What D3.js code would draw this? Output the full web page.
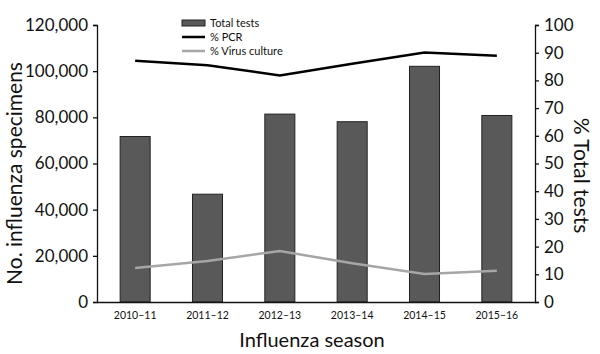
<!DOCTYPE html>
<html>
<head>
<meta charset="utf-8">
<script src="https://cdn.jsdelivr.net/npm/d3@7"></script>
<style>
  body { margin: 0; background: #fff; }
  text { font-family: Lato, "Open Sans", sans-serif; }
</style>
</head>
<body>
<div id="chart"></div>
<script>
const seasons = ["2010–11", "2011–12", "2012–13", "2013–14", "2014–15", "2015–16"];
const totalTests = [71700, 46700, 81400, 78100, 102100, 80800];
const pctPCR = [87.1, 85.5, 81.8, 86.0, 90.1, 88.9];
const pctCulture = [12.3, 14.8, 18.4, 14.0, 10.1, 11.3];
const leftTicks = [0, 20000, 40000, 60000, 80000, 100000, 120000];
const rightTicks = [0, 10, 20, 30, 40, 50, 60, 70, 80, 90, 100];

const width = 600, height = 354;
const margin = {top: 25, right: 65, bottom: 52, left: 97};

const svg = d3.select("#chart").append("svg")
  .attr("width", width)
  .attr("height", height);

const x = d3.scaleBand()
  .domain(seasons)
  .range([margin.left, width - margin.right])
  .paddingInner(0.585)
  .paddingOuter(0.32);

const yLeft = d3.scaleLinear().domain([0, 120000]).range([height - margin.bottom, margin.top]);
const yRight = d3.scaleLinear().domain([0, 100]).range([height - margin.bottom, margin.top]);

// bars
svg.append("g")
  .selectAll("rect")
  .data(seasons)
  .join("rect")
  .attr("x", d => x(d))
  .attr("width", x.bandwidth())
  .attr("y", (d, i) => yLeft(totalTests[i]))
  .attr("height", (d, i) => yLeft(0) - yLeft(totalTests[i]))
  .attr("fill", "#595959")
  .attr("stroke", "#222")
  .attr("stroke-width", 1);

const line = d3.line()
  .x((d, i) => x(seasons[i]) + x.bandwidth() / 2)
  .y(d => yRight(d));

svg.append("path")
  .attr("d", line(pctPCR))
  .attr("fill", "none")
  .attr("stroke", "#000")
  .attr("stroke-width", 2.5);

svg.append("path")
  .attr("d", line(pctCulture))
  .attr("fill", "none")
  .attr("stroke", "#a6a6a6")
  .attr("stroke-width", 2.5);

// axes
const leftAxis = svg.append("g")
  .attr("transform", `translate(${margin.left},0)`)
  .call(d3.axisLeft(yLeft).tickValues(leftTicks).tickSize(4).tickSizeOuter(4).tickFormat(d3.format(",")));
leftAxis.selectAll("text").attr("font-size", 17).attr("fill", "#111").attr("dx", -2);

const rightAxis = svg.append("g")
  .attr("transform", `translate(${width - margin.right},0)`)
  .call(d3.axisRight(yRight).tickValues(rightTicks).tickSize(4).tickSizeOuter(4));
rightAxis.selectAll("text").attr("font-size", 17).attr("fill", "#111").attr("dx", 2);

const bottomAxis = svg.append("g")
  .attr("transform", `translate(0,${height - margin.bottom})`)
  .call(d3.axisBottom(x).tickSize(0).tickSizeOuter(0));
bottomAxis.selectAll("text").attr("font-size", 10.5).attr("fill", "#111").attr("dy", "1.35em");

svg.selectAll(".domain").attr("stroke", "#111").attr("stroke-width", 1.3);
svg.selectAll(".tick line").attr("stroke", "#111").attr("stroke-width", 1.3);

// axis titles
svg.append("text")
  .attr("transform", `translate(22,${(margin.top + height - margin.bottom) / 2 + 10}) rotate(-90)`)
  .attr("text-anchor", "middle")
  .attr("font-size", 21)
  .attr("fill", "#111")
  .text("No. influenza specimens");

svg.append("text")
  .attr("transform", `translate(574,${(margin.top + height - margin.bottom) / 2 + 12}) rotate(90)`)
  .attr("text-anchor", "middle")
  .attr("font-size", 21)
  .attr("fill", "#111")
  .text("% Total tests");

svg.append("text")
  .attr("x", 312)
  .attr("y", 347)
  .attr("text-anchor", "middle")
  .attr("font-size", 20)
  .attr("fill", "#111")
  .text("Influenza season");

// legend
const legend = svg.append("g").attr("transform", "translate(182,20)");
legend.append("rect")
  .attr("width", 23).attr("height", 6)
  .attr("fill", "#595959").attr("stroke", "#222");
legend.append("line").attr("x1", 0).attr("x2", 23).attr("y1", 17).attr("y2", 17)
  .attr("stroke", "#000").attr("stroke-width", 2.5);
legend.append("line").attr("x1", 0).attr("x2", 23).attr("y1", 31).attr("y2", 31)
  .attr("stroke", "#a6a6a6").attr("stroke-width", 2.5);
legend.selectAll("text.lab")
  .data(["Total tests", "% PCR", "% Virus culture"])
  .join("text")
  .attr("class", "lab")
  .attr("x", 28)
  .attr("y", (d, i) => 3 + i * 14)
  .attr("dy", "0.35em")
  .attr("font-size", 11)
  .attr("fill", "#111")
  .text(d => d);
</script>
</body>
</html>
